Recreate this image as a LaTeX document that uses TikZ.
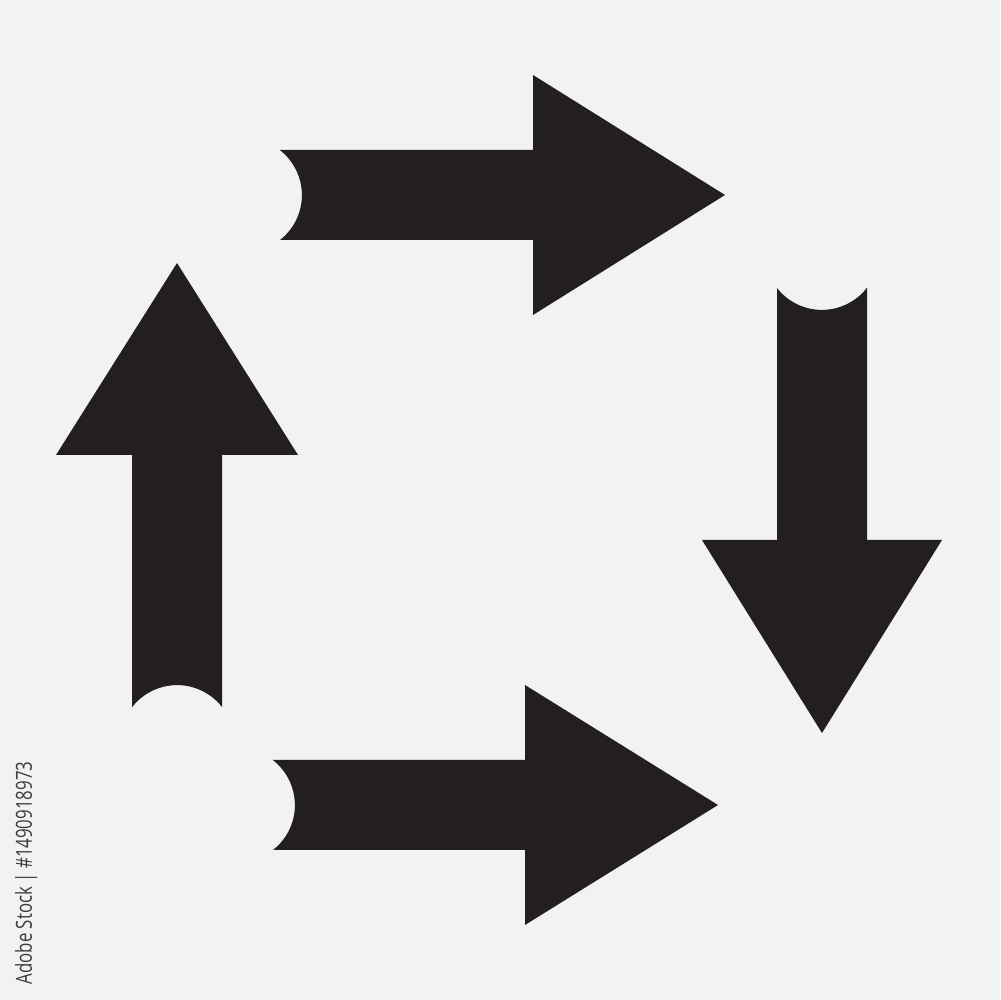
\documentclass[tikz,border=0pt]{standalone}
\usepackage{fontspec}
\setsansfont{Open Sans}
\usepackage{tikz}

\definecolor{paper}{HTML}{F2F2F2}
\definecolor{ink}{HTML}{231F20}
\definecolor{stamp}{HTML}{3C3C3C}

\tikzset{arrowbody/.style={fill=ink,draw=none}}

\begin{document}
\begin{tikzpicture}[x=0.1mm,y=0.1mm]
\fill[paper] (0,0) rectangle (1000,1000);
\useasboundingbox (0,0) rectangle (1000,1000);
% top arrow, pointing right
\fill[arrowbody] (280,850)--(533,850)--(533,925)--(725,805)--(533,685)--(533,760)--(280,760) arc (-52:52:57) --cycle;
% right arrow, pointing down
\fill[arrowbody] (867,712)--(867,460)--(942,460)--(822,267)--(702,460)--(777,460)--(777,712) arc (-142:-38:57) --cycle;
% bottom arrow, pointing right
\fill[arrowbody] (273,240)--(525,240)--(525,315)--(718,195)--(525,75)--(525,150)--(273,150) arc (-52:52:57) --cycle;
% left arrow, pointing up
\fill[arrowbody] (132,293)--(132,545)--(56,545)--(177,737)--(298,545)--(222,545)--(222,293) arc (38:142:57) --cycle;
\node[rotate=90,anchor=base west,inner sep=0pt,text=stamp,font=\sffamily\fontsize{6.3}{7}\selectfont] (stockid) at (32,15) {\scalebox{0.76}[1]{Adobe Stock | \#1490918973}};
\end{tikzpicture}
\end{document}
